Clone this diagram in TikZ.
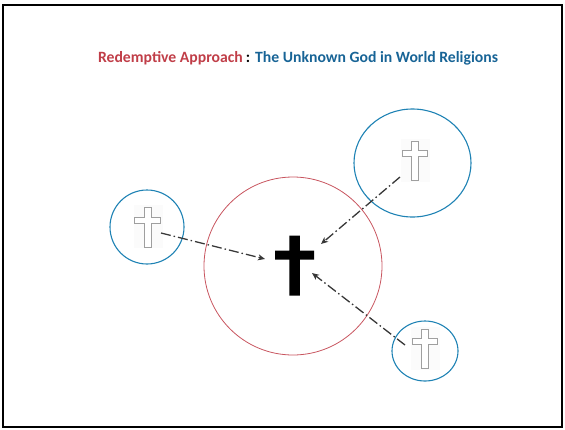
\documentclass[tikz,border=0pt]{standalone}
\usepackage{fontspec}
\setmainfont{Carlito}
\usepackage{xcolor}
\usepackage{tikz}
\usetikzlibrary{positioning,arrows.meta,shapes.geometric}
\definecolor{titlered}{RGB}{192,62,72}
\definecolor{titleblue}{RGB}{24,100,150}
\definecolor{ringred}{RGB}{200,85,95}
\definecolor{ringblue}{RGB}{30,130,180}
\definecolor{flowclr}{RGB}{55,55,55}
\tikzset{
  frame/.style={draw=black,line width=1.6pt},
  redring/.style={circle,draw=ringred,line width=0.8pt,inner sep=0pt,outer sep=0pt},
  bluering/.style={ellipse,draw=ringblue,line width=1.1pt,inner sep=0pt,outer sep=0pt},
  flow/.style={draw=flowclr,line width=1.3pt,
               dash pattern=on 10pt off 3pt on 1.5pt off 3pt,
               -{Stealth[length=7pt,width=6pt,inset=2pt]}},
  hollow/.style={draw=gray!75,line width=0.8pt,fill=white},
  crux/.pic={
    \path[pic actions] (-3.5,-20) -- (3.5,-20) -- (3.5,-10) -- (13,-10)
      -- (13,-4) -- (3.5,-4) -- (3.5,20) -- (-3.5,20) -- (-3.5,-4)
      -- (-13,-4) -- (-13,-10) -- (-3.5,-10) -- cycle;
  },
  backdrop/.pic={\fill[gray!3] (-14,-22) rectangle (15,21);},
}

\begin{document}
\begin{tikzpicture}[x=1pt,y=-1pt, font=\bfseries\fontsize{15.7}{18}\selectfont]
\useasboundingbox (0,0) rectangle (565,429);
\draw[frame] (3,5) rectangle (562,427);

\node (title) at (298,58)
  {\textcolor{titlered}{Redemptive Approach}\hspace{3pt}:\hspace{5pt}\textcolor{titleblue}{The Unknown God in World Religions}};

% rings
\node[redring, minimum size=178] (core) at (293,266) {};
\node[bluering, minimum size=74] (west) at (147,227) {};
\node[bluering, minimum width=117, minimum height=108] (northeast) at (412.5,163) {};
\node[bluering, minimum width=66, minimum height=60] (southeast) at (425,351) {};

% crosses
\pic[fill=black, scale=1.5] at (294.5,265.5) {crux};
\pic at (147.5,227) {backdrop};
\pic[hollow] at (147.5,227) {crux};
\pic at (415,160.5) {backdrop};
\pic[hollow, scale=0.98] at (415,160.5) {crux};
\pic at (425,348.5) {backdrop};
\pic[hollow, scale=0.97] at (425,348.5) {crux};

% arrows into the centre
\coordinate (westtail) at (161,233);
\coordinate (westtip) at (265,259);
\coordinate (netail) at (400,177);
\coordinate (netip) at (321,244);
\coordinate (setail) at (405,345);
\coordinate (setip) at (312,273);
\draw[flow] (westtail) -- (westtip);
\draw[flow] (netail) -- (netip);
\draw[flow] (setail) -- (setip);
\end{tikzpicture}
\end{document}
